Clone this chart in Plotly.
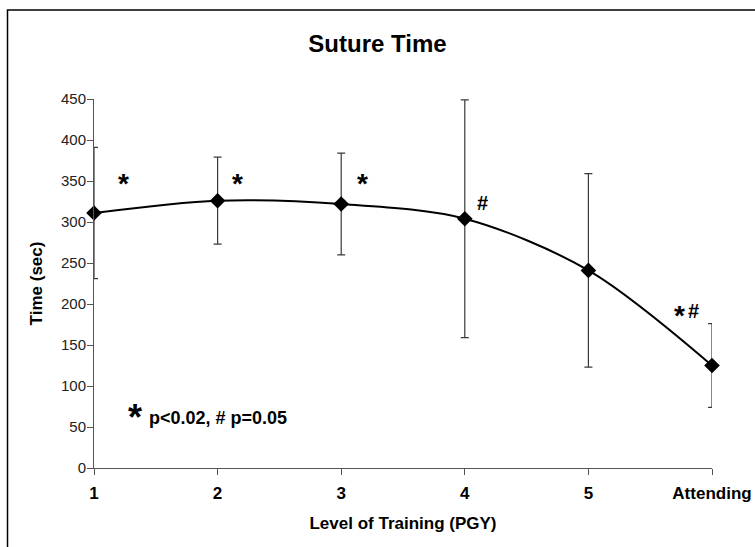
import plotly.graph_objects as go

# Mean suture time by level of training, with standard deviation
levels = ["1", "2", "3", "4", "5", "Attending"]
mean_time = [311, 326, 322, 304, 241, 125]
sd_time = [80, 53, 62, 145, 118, 51]
y_ticks = [0, 50, 100, 150, 200, 250, 300, 350, 400, 450]

# Significance marks placed beside the points
star_x = [0.24, 1.16, 2.17, 4.733]
star_y = [347, 347, 347, 186]
hash_x = [3.147, 4.854]
hash_y = [323, 191]

xpos = list(range(len(levels)))
FONT = "Liberation Sans, Arial, sans-serif"

fig = go.Figure()
fig.add_trace(go.Scatter(
    x=xpos,
    y=mean_time,
    mode="lines+markers",
    line=dict(color="black", width=2, shape="spline", smoothing=0.9),
    marker=dict(symbol="diamond", size=12, color="black"),
    error_y=dict(type="data", array=sd_time, visible=True,
                 color="#3a3a3a", thickness=1.2, width=4),
    cliponaxis=False,
    showlegend=False,
))

annotations = []
for mx, my in zip(star_x, star_y):
    annotations.append(dict(
        x=mx, y=my, xref="x", yref="y", text="<b>*</b>",
        showarrow=False, font=dict(family=FONT, size=28, color="black"),
        xanchor="center", yanchor="middle",
    ))
for mx, my in zip(hash_x, hash_y):
    annotations.append(dict(
        x=mx, y=my, xref="x", yref="y", text="<b>#</b>",
        showarrow=False, font=dict(family=FONT, size=20, color="black"),
        xanchor="center", yanchor="middle",
    ))

# Key for the significance marks
annotations.append(dict(
    x=0.332, y=61, xref="x", yref="y", text="<b>*</b>", showarrow=False,
    font=dict(family=FONT, size=36, color="black"),
    xanchor="center", yanchor="middle",
))
annotations.append(dict(
    x=0.425, y=61, xref="x", yref="y", text="<b>p<0.02, # p=0.05</b>",
    showarrow=False, font=dict(family=FONT, size=18, color="black"),
    xanchor="left", yanchor="middle",
))

fig.update_layout(
    width=755, height=547,
    margin=dict(l=94, r=43, t=99, b=79, autoexpand=False),
    paper_bgcolor="white", plot_bgcolor="white",
    font=dict(family=FONT, color="black"),
    title=dict(text="<b>Suture Time</b>", x=0.5, xanchor="center",
               y=1 - 44 / 547, yanchor="middle",
               font=dict(family=FONT, size=24, color="black")),
    annotations=annotations,
    # Frame around the whole chart, open past the right and bottom edges
    shapes=[dict(type="rect", xref="paper", yref="paper",
                 xsizemode="pixel", ysizemode="pixel",
                 xanchor=0, yanchor=0,
                 x0=-86.5, x1=700, y0=-90, y1=458,
                 line=dict(color="black", width=1.5), layer="below")],
)

fig.update_xaxes(
    range=[0, len(levels) - 1],
    tickmode="array", tickvals=xpos, ticktext=[f"<b>{t}</b>" for t in levels],
    tickfont=dict(family=FONT, size=17, color="black"),
    ticks="outside", ticklen=6, tickcolor="#555555", tickwidth=1,
    ticklabelstandoff=4,
    showline=True, linecolor="#555555", linewidth=1,
    showgrid=False, zeroline=False, automargin=False,
    title=dict(text="<b>Level of Training (PGY)</b>", standoff=14,
               font=dict(family=FONT, size=17, color="black")),
)
fig.update_yaxes(
    range=[0, 450],
    tickmode="array", tickvals=y_ticks,
    tickfont=dict(family=FONT, size=15, color="#222222"),
    ticks="outside", ticklen=6, tickcolor="#555555", tickwidth=1,
    ticklabelstandoff=-2,
    showline=True, linecolor="#555555", linewidth=1,
    showgrid=False, zeroline=False, automargin=False,
    title=dict(text="<b>Time (sec)</b>", standoff=14,
               font=dict(family=FONT, size=17, color="black")),
)

fig.write_html("out.html")
